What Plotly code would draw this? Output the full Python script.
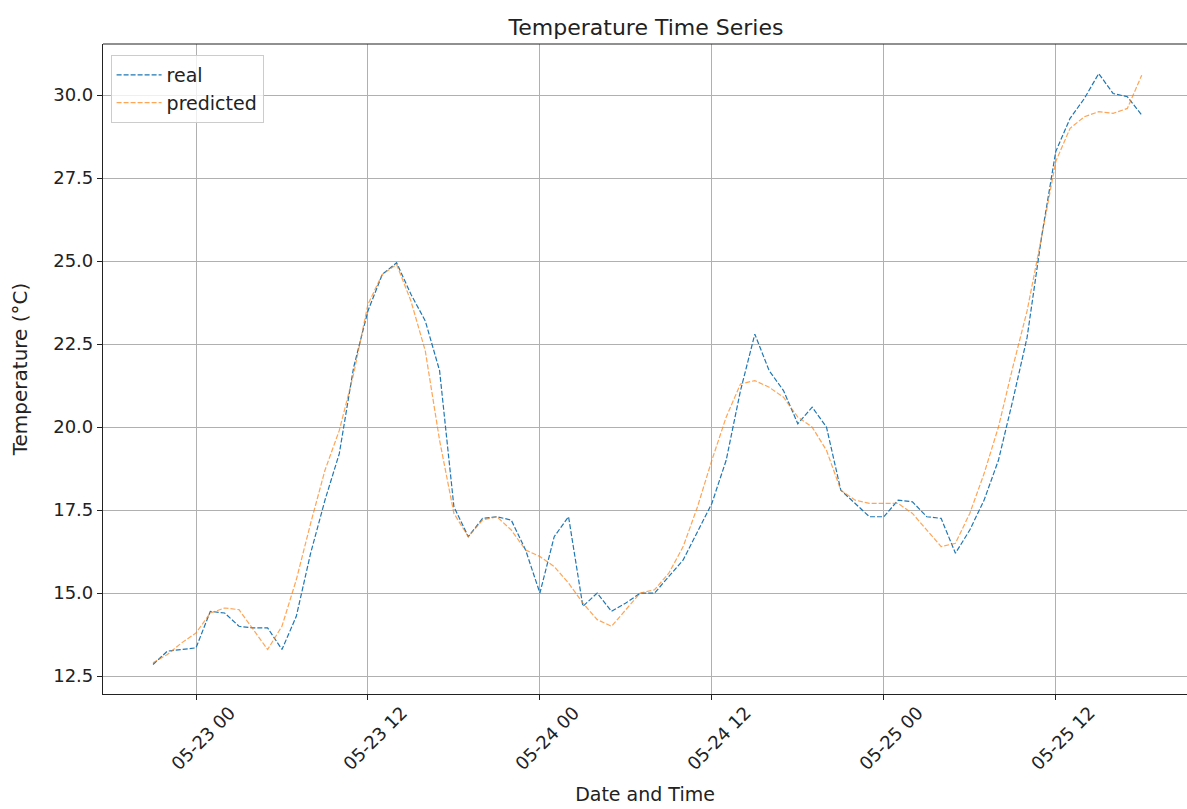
import pandas as pd
import plotly.graph_objects as go

start_time = "2024-05-22 21:00"
n_points = 70
times = pd.date_range(start_time, periods=n_points, freq="h")

real = [12.85, 13.25, 13.3, 13.35, 14.45, 14.4, 14.0, 13.95, 13.95, 13.3,
        14.3, 16.2, 17.8, 19.2, 21.8, 23.5, 24.6, 24.95, 24.0, 23.2,
        21.7, 17.6, 16.7, 17.25, 17.3, 17.2, 16.3, 15.0, 16.7, 17.3,
        14.6, 15.0, 14.45, 14.7, 15.0, 15.0, 15.5, 16.0, 16.85, 17.7,
        19.0, 21.1, 22.8, 21.7, 21.1, 20.1, 20.6, 20.0, 18.1, 17.7,
        17.3, 17.3, 17.8, 17.75, 17.3, 17.25, 16.2, 16.9, 17.8, 19.0,
        20.8, 22.7, 25.7, 28.3, 29.3, 29.9, 30.65, 30.05, 29.95, 29.4]

predicted = [12.9, 13.15, 13.5, 13.8, 14.4, 14.55, 14.5, 13.9, 13.3, 14.0,
             15.4, 17.1, 18.7, 19.9, 21.6, 23.7, 24.6, 24.9, 23.8, 22.3,
             19.6, 17.4, 16.7, 17.2, 17.3, 16.9, 16.3, 16.1, 15.8, 15.3,
             14.7, 14.2, 14.0, 14.5, 15.0, 15.1, 15.6, 16.4, 17.6, 19.0,
             20.3, 21.3, 21.4, 21.2, 20.9, 20.3, 20.0, 19.3, 18.1, 17.8,
             17.7, 17.7, 17.7, 17.4, 16.9, 16.4, 16.5, 17.4, 18.6, 20.0,
             21.8, 23.5, 25.7, 28.0, 29.0, 29.35, 29.5, 29.45, 29.6, 30.6]

y_ticks = [12.5, 15.0, 17.5, 20.0, 22.5, 25.0, 27.5, 30.0]

ref = pd.Timestamp("2024-05-23 00:00")
x_range = [ref - pd.Timedelta(hours=6.49), ref + pd.Timedelta(hours=69.16)]
x_ticks = [ref + pd.Timedelta(hours=12 * k) for k in range(6)]

FONT = "DejaVu Sans"
fig = go.Figure()
fig.add_trace(go.Scatter(x=times, y=real, mode="lines", name="real",
                         line=dict(color="#1f77b4", width=1.2, dash="5px,2px")))
fig.add_trace(go.Scatter(x=times, y=predicted, mode="lines", name="predicted",
                         line=dict(color="#ff7f0e", width=1.2, dash="5px,2px"),
                         opacity=0.7))

fig.update_layout(
    width=1187, height=809,
    margin=dict(l=103, r=0, t=44, b=115, autoexpand=False),
    paper_bgcolor="white", plot_bgcolor="white",
    font=dict(family=FONT, size=18, color="#222"),
    title=dict(text="Temperature Time Series", x=(103 + 1189) / 2 / 1187, xanchor="center",
               y=1 - 27 / 809, yanchor="middle", font=dict(size=22, family=FONT, color="#222")),
    legend=dict(x=0.007, y=0.983, xanchor="left", yanchor="top",
                bgcolor="rgba(255,255,255,0.8)", bordercolor="#cccccc", borderwidth=1,
                itemwidth=45, font=dict(size=19, family=FONT)),
    showlegend=True,
)
fig.update_xaxes(
    range=x_range, tickvals=x_ticks, tickformat="%m-%d %H", tickangle=-45,
    showgrid=True, gridcolor="#b0b0b0", gridwidth=1,
    showline=True, linecolor="#222", linewidth=1.2, mirror=False,
    ticks="outside", ticklen=5, tickcolor="#222", tickwidth=1,
    ticklabelshift=34, ticklabelstandoff=-5,
    title=dict(text="Date and Time", standoff=14, font=dict(size=19, family=FONT)),
    zeroline=False, automargin=False,
)
fig.update_yaxes(
    range=[11.96, 31.54], tickvals=y_ticks, tickformat=".1f",
    showgrid=True, gridcolor="#b0b0b0", gridwidth=1,
    showline=True, linecolor="#222", linewidth=1.2, mirror=False,
    ticks="outside", ticklen=5, tickcolor="#222", tickwidth=1,
    title=dict(text="Temperature (°C)", standoff=20, font=dict(size=20, family=FONT)),
    zeroline=False, automargin=False,
)
# top spine
fig.add_shape(type="line", xref="paper", yref="paper", x0=0, x1=1, y0=1, y1=1,
              line=dict(color="#222", width=1.2))

fig.write_html("out.html")
